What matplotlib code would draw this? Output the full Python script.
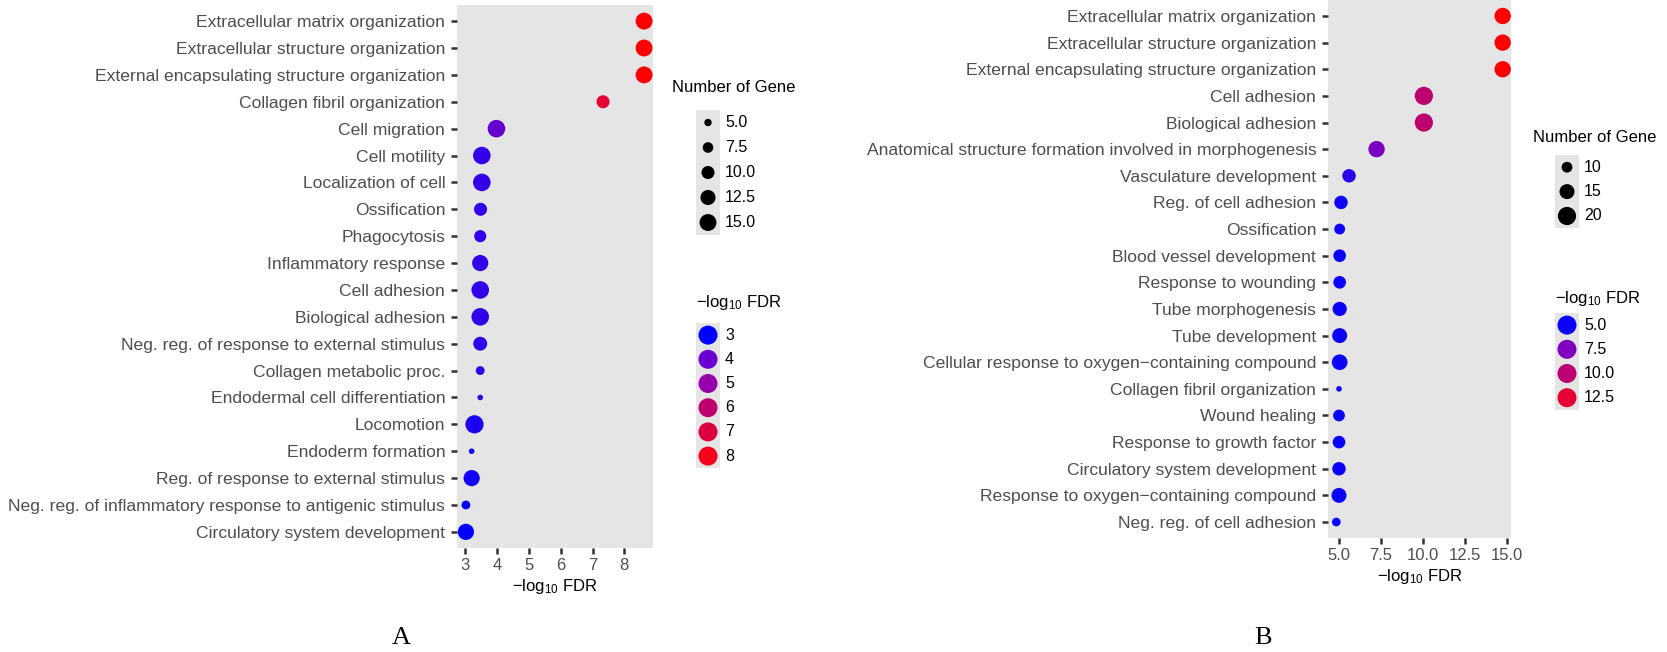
import numpy as np
import matplotlib
matplotlib.use("Agg")
import matplotlib.pyplot as plt
import matplotlib.colors as mcolors
from matplotlib.patches import Rectangle

plt.rcParams['font.family'] = ['Liberation Sans', 'DejaVu Sans']

# Panel A data (top to bottom)
terms_a = [
    "Extracellular matrix organization",
    "Extracellular structure organization",
    "External encapsulating structure organization",
    "Collagen fibril organization",
    "Cell migration",
    "Cell motility",
    "Localization of cell",
    "Ossification",
    "Phagocytosis",
    "Inflammatory response",
    "Cell adhesion",
    "Biological adhesion",
    "Neg. reg. of response to external stimulus",
    "Collagen metabolic proc.",
    "Endodermal cell differentiation",
    "Locomotion",
    "Endoderm formation",
    "Reg. of response to external stimulus",
    "Neg. reg. of inflammatory response to antigenic stimulus",
    "Circulatory system development",
]
fdr_a = [8.62, 8.62, 8.62, 7.33, 3.98, 3.52, 3.52, 3.48, 3.47, 3.47,
         3.47, 3.47, 3.47, 3.47, 3.47, 3.29, 3.20, 3.20, 3.02, 3.02]
genes_a = [15, 15, 15, 10, 16, 16, 16, 10, 9, 14,
           16, 16, 11, 6, 4, 17, 4, 14, 6, 14]
xticks_a = [3, 4, 5, 6, 7, 8]
size_breaks_a = [5.0, 7.5, 10.0, 12.5, 15.0]
color_breaks_a = [3, 4, 5, 6, 7, 8]

# Panel B data (top to bottom)
terms_b = [
    "Extracellular matrix organization",
    "Extracellular structure organization",
    "External encapsulating structure organization",
    "Cell adhesion",
    "Biological adhesion",
    "Anatomical structure formation involved in morphogenesis",
    "Vasculature development",
    "Reg. of cell adhesion",
    "Ossification",
    "Blood vessel development",
    "Response to wounding",
    "Tube morphogenesis",
    "Tube development",
    "Cellular response to oxygen\u2212containing compound",
    "Collagen fibril organization",
    "Wound healing",
    "Response to growth factor",
    "Circulatory system development",
    "Response to oxygen\u2212containing compound",
    "Neg. reg. of cell adhesion",
]
fdr_b = [14.76, 14.76, 14.76, 10.06, 10.06, 7.24, 5.60, 5.12, 5.04, 5.04,
         5.04, 5.04, 5.04, 5.04, 5.00, 5.00, 5.00, 5.00, 5.00, 4.84]
genes_b = [17, 17, 17, 20, 20, 17, 13, 13, 10, 12,
           12, 14, 15, 16, 6, 11, 12, 13, 15, 8]
xticks_b = [5.0, 7.5, 10.0, 12.5, 15.0]
size_breaks_b = [10, 15, 20]
color_breaks_b = [5.0, 7.5, 10.0, 12.5]

W, H, DPI = 1667, 652, 100
PANEL_BG = "#e5e5e5"
AXIS_GREY = "#4d4d4d"

# blue -> red gradient, anchor colours taken from the legend keys
cmap = mcolors.LinearSegmentedColormap.from_list("bluered", [
    (0.0, "#0000ff"), (0.175, "#6a00d0"), (0.354, "#9500ab"),
    (0.532, "#be006e"), (0.711, "#dc0042"), (0.889, "#f5001c"), (1.0, "#ff0000"),
])


def size_of(g, gmin, gmax, dmin=5.6, dmax=18.2):
    # area-linear scale, diameters in pixels -> marker area in pt^2
    g = np.asarray(g, dtype=float)
    d2 = dmin ** 2 + (g - gmin) / (gmax - gmin) * (dmax ** 2 - dmin ** 2)
    return d2 * (72 / DPI) ** 2


XLABEL = r"$\mathregular{-log_{10}}$ FDR"


def draw_panel(rect, terms, fdr, genes, xticks, xticklabels):
    ax = fig.add_axes(rect)
    fdr = np.array(fdr)
    y = np.arange(len(terms))
    norm = mcolors.Normalize(fdr.min(), fdr.max())
    ax.scatter(fdr, y, s=size_of(genes, min(genes), max(genes)),
               c=fdr, cmap=cmap, norm=norm, edgecolors='none', zorder=3)
    span = fdr.max() - fdr.min()
    ax.set_xlim(fdr.min() - 0.05 * span, fdr.max() + 0.05 * span)
    ax.set_ylim(len(terms) - 0.4, -0.6)
    ax.set_facecolor(PANEL_BG)
    for s in ax.spines.values():
        s.set_visible(False)
    ax.set_yticks(y)
    ax.set_yticklabels(terms, fontsize=12.6, color=AXIS_GREY)
    ax.set_xticks(xticks)
    ax.set_xticklabels(xticklabels, fontsize=12, color=AXIS_GREY)
    ax.tick_params(length=4, width=1.8, color="#333333")
    ax.tick_params(axis='y', pad=4.5)
    ax.tick_params(axis='x', pad=3)
    ax.set_xlabel(XLABEL, fontsize=12, labelpad=3)
    return ax, norm


def draw_legends(lax, title_x, size_title_y, key_x, size_top, size_step,
                 size_breaks, gmin, gmax, color_title_y, color_top, color_step,
                 color_breaks, norm, size_fmt):
    kw = 24
    lax.text(title_x, size_title_y, "Number of Gene", fontsize=12, va='center', ha='left')
    n = len(size_breaks)
    lax.add_patch(Rectangle((key_x, size_top), kw, n * size_step, color=PANEL_BG, lw=0))
    cy = size_top + size_step * (np.arange(n) + 0.5)
    lax.scatter([key_x + kw / 2] * n, cy, s=size_of(size_breaks, gmin, gmax),
                color='black', edgecolors='none')
    for v, yy in zip(size_breaks, cy):
        lax.text(key_x + kw + 5, yy, size_fmt.format(v), fontsize=11.5,
                 va='center', ha='left')

    lax.text(key_x, color_title_y, XLABEL, fontsize=12, va='center', ha='left')
    n = len(color_breaks)
    lax.add_patch(Rectangle((key_x, color_top), kw, n * color_step, color=PANEL_BG, lw=0))
    cy = color_top + color_step * (np.arange(n) + 0.5)
    lax.scatter([key_x + kw / 2] * n, cy, s=(19 * 72 / DPI) ** 2, c=color_breaks,
                cmap=cmap, norm=norm, edgecolors='none')
    fmt = "{:g}" if all(float(v).is_integer() for v in color_breaks) else "{:.1f}"
    for v, yy in zip(color_breaks, cy):
        lax.text(key_x + kw + 5, yy, fmt.format(v), fontsize=11.5,
                 va='center', ha='left')


fig = plt.figure(figsize=(W / DPI, H / DPI), dpi=DPI)


def frac_rect(left, top, right, bottom):
    return [left / W, 1 - bottom / H, (right - left) / W, (bottom - top) / H]


ax_a, norm_a = draw_panel(frac_rect(457, 5, 653, 548), terms_a, fdr_a, genes_a,
                          xticks_a, [str(v) for v in xticks_a])
ax_b, norm_b = draw_panel(frac_rect(1328, 0, 1511, 538), terms_b, fdr_b, genes_b,
                          xticks_b, ["{:.1f}".format(v) for v in xticks_b])

lax = fig.add_axes([0, 0, 1, 1])
lax.set_xlim(0, W)
lax.set_ylim(H, 0)
lax.axis('off')
lax.patch.set_alpha(0)

draw_legends(lax, 672, 88, 696, 110, 25, size_breaks_a, min(genes_a), max(genes_a),
             303, 323, 24.2, color_breaks_a, norm_a, "{:.1f}")
draw_legends(lax, 1533, 138, 1555, 155, 24.4, size_breaks_b, min(genes_b), max(genes_b),
             298, 313, 24.2, color_breaks_b, norm_b, "{:g}")

fig.text(401 / W, 1 - 638 / H, "A", fontsize=19, family='Liberation Serif',
         ha='center', va='center')
fig.text(1263 / W, 1 - 638 / H, "B", fontsize=19, family='Liberation Serif',
         ha='center', va='center')

fig.savefig("out.png", dpi=DPI)
